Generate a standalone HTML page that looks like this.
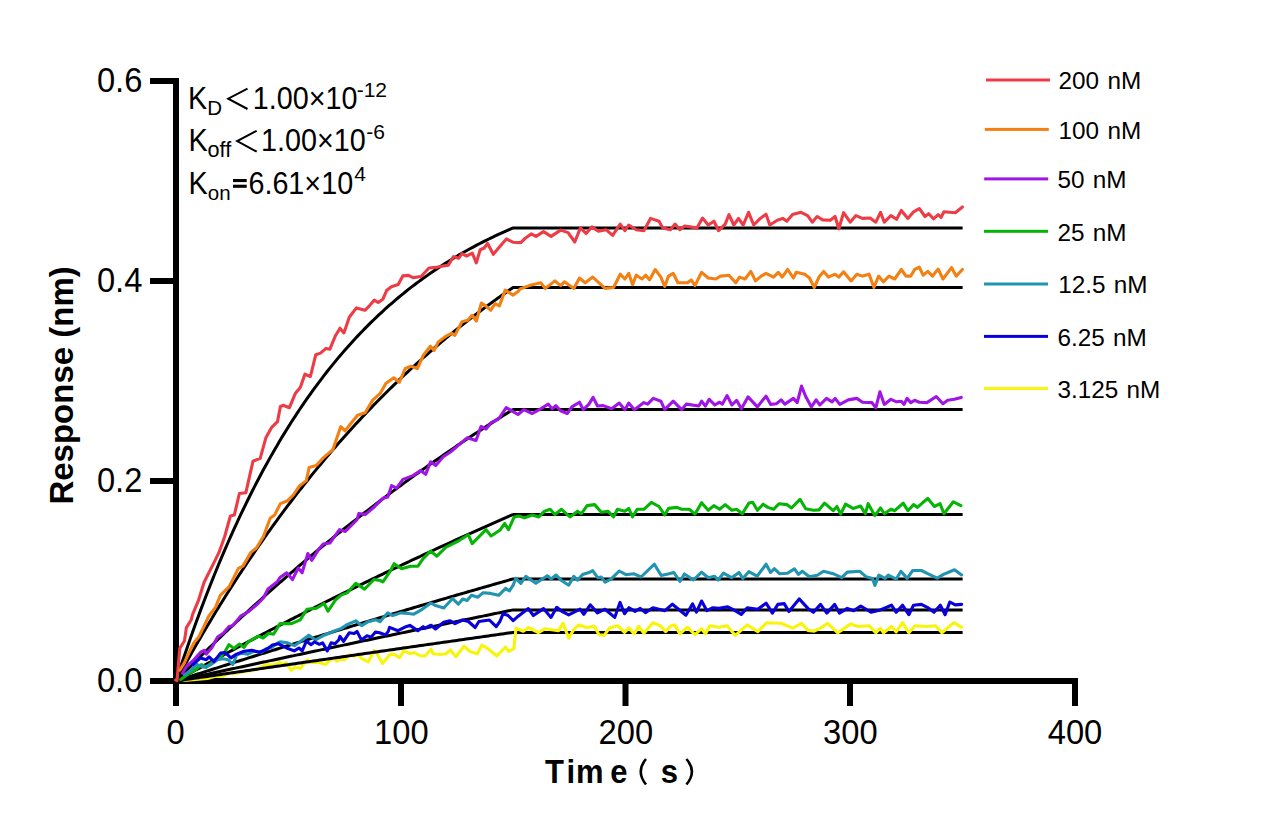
<!DOCTYPE html>
<html><head><meta charset="utf-8"><style>
html,body{margin:0;padding:0;background:#fff;}
body{width:1268px;height:834px;overflow:hidden;}
svg{display:block;}
</style></head><body>
<svg width="1268" height="834" viewBox="0 0 1268 834"><rect width="1268" height="834" fill="#fff"/><g fill="#000"><rect x="173" y="78" width="6" height="628"/><rect x="150" y="678" width="928" height="6"/><rect x="150" y="78" width="26" height="6"/><rect x="150" y="278" width="26" height="6"/><rect x="150" y="478" width="26" height="6"/><rect x="398" y="681" width="6" height="25"/><rect x="622.5" y="681" width="6" height="25"/><rect x="847" y="681" width="6" height="25"/><rect x="1072" y="681" width="6" height="25"/></g><path fill="none" stroke="#F8F40C" stroke-width="3.1" stroke-linejoin="round" stroke-linecap="round" d="M184.0,680.5 L204.4,678.6 L209.1,678.1 L215.7,676.2 L223.3,676.2 L229.0,672.9 L234.7,673.4 L242.2,672.0 L247.9,671.0 L254.5,670.1 L261.2,667.2 L266.8,664.5 L273.5,665.0 L278.2,663.1 L280.0,662.2 L283.8,665.1 L286.2,662.7 L291.4,670.3 L295.6,667.0 L300.4,668.4 L303.7,664.1 L307.4,659.9 L310.3,662.7 L314.1,662.2 L320.2,662.7 L325.4,664.6 L329.7,660.4 L334.4,658.0 L336.8,661.3 L340.0,659.1 L344.3,659.8 L349.2,654.8 L354.2,656.3 L358.5,654.1 L361.3,658.4 L368.4,661.9 L374.1,650.6 L376.9,653.4 L382.6,663.4 L389.7,654.8 L393.9,654.1 L399.6,657.7 L403.9,650.6 L409.6,653.4 L414.5,652.7 L419.5,655.5 L425.0,656.0 L431.0,649.2 L433.2,653.7 L440.0,654.5 L446.0,653.7 L450.5,650.0 L455.7,656.7 L464.0,646.2 L470.0,651.5 L477.4,653.7 L481.9,645.1 L488.7,649.2 L496.9,656.0 L505.5,647.0 L508.9,651.5 L513.8,648.5"/><g fill="none" stroke="#000" stroke-width="3" stroke-linejoin="round"><path d="M176.00,681.00 L178.25,674.10 L180.50,667.29 L182.74,660.57 L184.99,653.94 L187.24,647.39 L189.49,640.93 L191.73,634.56 L193.98,628.27 L196.23,622.06 L198.47,615.93 L200.72,609.89 L202.97,603.92 L205.22,598.03 L207.47,592.22 L209.71,586.49 L211.96,580.83 L214.21,575.24 L216.45,569.73 L218.70,564.29 L220.95,558.93 L223.20,553.63 L225.44,548.40 L227.69,543.24 L229.94,538.15 L232.19,533.13 L234.44,528.17 L236.68,523.27 L238.93,518.45 L241.18,513.68 L243.43,508.98 L245.67,504.34 L247.92,499.75 L250.17,495.23 L252.42,490.77 L254.66,486.37 L256.91,482.03 L259.16,477.74 L261.40,473.51 L263.65,469.33 L265.90,465.21 L268.15,461.15 L270.39,457.13 L272.64,453.17 L274.89,449.26 L277.14,445.41 L279.38,441.60 L281.63,437.84 L283.88,434.14 L286.13,430.48 L288.38,426.87 L290.62,423.31 L292.87,419.79 L295.12,416.32 L297.37,412.90 L299.61,409.52 L301.86,406.18 L304.11,402.89 L306.36,399.64 L308.60,396.44 L310.85,393.27 L313.10,390.15 L315.35,387.07 L317.59,384.03 L319.84,381.03 L322.09,378.07 L324.34,375.15 L326.58,372.26 L328.83,369.42 L331.08,366.61 L333.33,363.84 L335.57,361.10 L337.82,358.40 L340.07,355.74 L342.31,353.11 L344.56,350.52 L346.81,347.96 L349.06,345.43 L351.31,342.94 L353.55,340.48 L355.80,338.05 L358.05,335.65 L360.30,333.29 L362.54,330.95 L364.79,328.65 L367.04,326.38 L369.28,324.13 L371.53,321.92 L373.78,319.73 L376.03,317.58 L378.27,315.45 L380.52,313.35 L382.77,311.28 L385.02,309.23 L387.26,307.22 L389.51,305.22 L391.76,303.26 L394.01,301.32 L396.25,299.40 L398.50,297.52 L400.75,295.65 L403.00,293.81 L405.25,292.00 L407.49,290.20 L409.74,288.44 L411.99,286.69 L414.24,284.97 L416.48,283.27 L418.73,281.59 L420.98,279.94 L423.23,278.31 L425.47,276.69 L427.72,275.10 L429.97,273.53 L432.22,271.98 L434.46,270.45 L436.71,268.95 L438.96,267.46 L441.20,265.99 L443.45,264.54 L445.70,263.11 L447.95,261.69 L450.19,260.30 L452.44,258.93 L454.69,257.57 L456.94,256.23 L459.19,254.91 L461.43,253.60 L463.68,252.31 L465.93,251.04 L468.18,249.79 L470.42,248.55 L472.67,247.33 L474.92,246.13 L477.17,244.94 L479.41,243.76 L481.66,242.61 L483.91,241.46 L486.16,240.33 L488.40,239.22 L490.65,238.12 L492.90,237.04 L495.14,235.97 L497.39,234.91 L499.64,233.87 L501.89,232.84 L504.13,231.83 L506.38,230.83 L508.63,229.84 L510.88,228.86 L513.12,227.90 L962.62,227.90"/><path d="M176.00,681.00 L178.25,676.88 L180.50,672.78 L182.74,668.72 L184.99,664.68 L187.24,660.66 L189.49,656.67 L191.73,652.71 L193.98,648.78 L196.23,644.87 L198.47,640.98 L200.72,637.13 L202.97,633.29 L205.22,629.49 L207.47,625.70 L209.71,621.95 L211.96,618.21 L214.21,614.51 L216.45,610.82 L218.70,607.16 L220.95,603.53 L223.20,599.92 L225.44,596.33 L227.69,592.76 L229.94,589.22 L232.19,585.71 L234.44,582.21 L236.68,578.74 L238.93,575.29 L241.18,571.87 L243.43,568.47 L245.67,565.09 L247.92,561.73 L250.17,558.39 L252.42,555.08 L254.66,551.79 L256.91,548.52 L259.16,545.27 L261.40,542.04 L263.65,538.83 L265.90,535.65 L268.15,532.48 L270.39,529.34 L272.64,526.22 L274.89,523.12 L277.14,520.04 L279.38,516.97 L281.63,513.93 L283.88,510.91 L286.13,507.91 L288.38,504.93 L290.62,501.97 L292.87,499.03 L295.12,496.10 L297.37,493.20 L299.61,490.31 L301.86,487.45 L304.11,484.60 L306.36,481.78 L308.60,478.97 L310.85,476.18 L313.10,473.40 L315.35,470.65 L317.59,467.91 L319.84,465.20 L322.09,462.50 L324.34,459.81 L326.58,457.15 L328.83,454.50 L331.08,451.87 L333.33,449.26 L335.57,446.67 L337.82,444.09 L340.07,441.53 L342.31,438.98 L344.56,436.46 L346.81,433.94 L349.06,431.45 L351.31,428.97 L353.55,426.51 L355.80,424.07 L358.05,421.64 L360.30,419.23 L362.54,416.83 L364.79,414.45 L367.04,412.08 L369.28,409.73 L371.53,407.40 L373.78,405.08 L376.03,402.77 L378.27,400.48 L380.52,398.21 L382.77,395.95 L385.02,393.71 L387.26,391.48 L389.51,389.27 L391.76,387.07 L394.01,384.88 L396.25,382.71 L398.50,380.55 L400.75,378.41 L403.00,376.28 L405.25,374.17 L407.49,372.07 L409.74,369.98 L411.99,367.91 L414.24,365.85 L416.48,363.81 L418.73,361.77 L420.98,359.75 L423.23,357.75 L425.47,355.76 L427.72,353.78 L429.97,351.81 L432.22,349.86 L434.46,347.92 L436.71,345.99 L438.96,344.08 L441.20,342.18 L443.45,340.29 L445.70,338.41 L447.95,336.54 L450.19,334.69 L452.44,332.85 L454.69,331.02 L456.94,329.21 L459.19,327.40 L461.43,325.61 L463.68,323.83 L465.93,322.06 L468.18,320.31 L470.42,318.56 L472.67,316.83 L474.92,315.10 L477.17,313.39 L479.41,311.69 L481.66,310.01 L483.91,308.33 L486.16,306.66 L488.40,305.01 L490.65,303.36 L492.90,301.73 L495.14,300.10 L497.39,298.49 L499.64,296.89 L501.89,295.30 L504.13,293.72 L506.38,292.15 L508.63,290.59 L510.88,289.04 L513.12,287.50 L962.62,287.50"/><path d="M176.00,681.00 L178.25,678.71 L180.50,676.42 L182.74,674.14 L184.99,671.87 L187.24,669.61 L189.49,667.36 L191.73,665.11 L193.98,662.87 L196.23,660.64 L198.47,658.41 L200.72,656.19 L202.97,653.98 L205.22,651.78 L207.47,649.58 L209.71,647.39 L211.96,645.21 L214.21,643.04 L216.45,640.87 L218.70,638.71 L220.95,636.56 L223.20,634.41 L225.44,632.27 L227.69,630.14 L229.94,628.02 L232.19,625.90 L234.44,623.79 L236.68,621.68 L238.93,619.59 L241.18,617.50 L243.43,615.41 L245.67,613.34 L247.92,611.27 L250.17,609.20 L252.42,607.15 L254.66,605.10 L256.91,603.06 L259.16,601.02 L261.40,598.99 L263.65,596.97 L265.90,594.96 L268.15,592.95 L270.39,590.95 L272.64,588.95 L274.89,586.96 L277.14,584.98 L279.38,583.00 L281.63,581.03 L283.88,579.07 L286.13,577.11 L288.38,575.16 L290.62,573.22 L292.87,571.28 L295.12,569.35 L297.37,567.43 L299.61,565.51 L301.86,563.60 L304.11,561.69 L306.36,559.80 L308.60,557.90 L310.85,556.02 L313.10,554.14 L315.35,552.26 L317.59,550.39 L319.84,548.53 L322.09,546.68 L324.34,544.83 L326.58,542.98 L328.83,541.15 L331.08,539.32 L333.33,537.49 L335.57,535.67 L337.82,533.86 L340.07,532.05 L342.31,530.25 L344.56,528.45 L346.81,526.67 L349.06,524.88 L351.31,523.10 L353.55,521.33 L355.80,519.57 L358.05,517.81 L360.30,516.05 L362.54,514.30 L364.79,512.56 L367.04,510.83 L369.28,509.09 L371.53,507.37 L373.78,505.65 L376.03,503.93 L378.27,502.23 L380.52,500.52 L382.77,498.83 L385.02,497.14 L387.26,495.45 L389.51,493.77 L391.76,492.09 L394.01,490.42 L396.25,488.76 L398.50,487.10 L400.75,485.45 L403.00,483.80 L405.25,482.16 L407.49,480.52 L409.74,478.89 L411.99,477.27 L414.24,475.65 L416.48,474.03 L418.73,472.42 L420.98,470.82 L423.23,469.22 L425.47,467.62 L427.72,466.04 L429.97,464.45 L432.22,462.87 L434.46,461.30 L436.71,459.73 L438.96,458.17 L441.20,456.61 L443.45,455.06 L445.70,453.51 L447.95,451.97 L450.19,450.44 L452.44,448.90 L454.69,447.38 L456.94,445.85 L459.19,444.34 L461.43,442.83 L463.68,441.32 L465.93,439.82 L468.18,438.32 L470.42,436.83 L472.67,435.34 L474.92,433.86 L477.17,432.38 L479.41,430.91 L481.66,429.44 L483.91,427.98 L486.16,426.52 L488.40,425.07 L490.65,423.62 L492.90,422.18 L495.14,420.74 L497.39,419.31 L499.64,417.88 L501.89,416.45 L504.13,415.03 L506.38,413.62 L508.63,412.21 L510.88,410.80 L513.12,409.40 L962.62,409.40"/><path d="M176.00,681.00 L178.25,679.75 L180.50,678.50 L182.74,677.25 L184.99,676.00 L187.24,674.76 L189.49,673.52 L191.73,672.28 L193.98,671.04 L196.23,669.80 L198.47,668.57 L200.72,667.34 L202.97,666.11 L205.22,664.88 L207.47,663.66 L209.71,662.43 L211.96,661.21 L214.21,659.99 L216.45,658.77 L218.70,657.56 L220.95,656.34 L223.20,655.13 L225.44,653.92 L227.69,652.72 L229.94,651.51 L232.19,650.31 L234.44,649.11 L236.68,647.91 L238.93,646.71 L241.18,645.51 L243.43,644.32 L245.67,643.13 L247.92,641.94 L250.17,640.75 L252.42,639.56 L254.66,638.38 L256.91,637.20 L259.16,636.02 L261.40,634.84 L263.65,633.67 L265.90,632.49 L268.15,631.32 L270.39,630.15 L272.64,628.98 L274.89,627.81 L277.14,626.65 L279.38,625.49 L281.63,624.33 L283.88,623.17 L286.13,622.01 L288.38,620.86 L290.62,619.70 L292.87,618.55 L295.12,617.40 L297.37,616.26 L299.61,615.11 L301.86,613.97 L304.11,612.83 L306.36,611.69 L308.60,610.55 L310.85,609.41 L313.10,608.28 L315.35,607.15 L317.59,606.02 L319.84,604.89 L322.09,603.76 L324.34,602.64 L326.58,601.51 L328.83,600.39 L331.08,599.27 L333.33,598.16 L335.57,597.04 L337.82,595.93 L340.07,594.82 L342.31,593.71 L344.56,592.60 L346.81,591.49 L349.06,590.39 L351.31,589.28 L353.55,588.18 L355.80,587.08 L358.05,585.99 L360.30,584.89 L362.54,583.80 L364.79,582.71 L367.04,581.62 L369.28,580.53 L371.53,579.44 L373.78,578.36 L376.03,577.28 L378.27,576.19 L380.52,575.12 L382.77,574.04 L385.02,572.96 L387.26,571.89 L389.51,570.82 L391.76,569.75 L394.01,568.68 L396.25,567.61 L398.50,566.55 L400.75,565.48 L403.00,564.42 L405.25,563.36 L407.49,562.30 L409.74,561.25 L411.99,560.19 L414.24,559.14 L416.48,558.09 L418.73,557.04 L420.98,555.99 L423.23,554.95 L425.47,553.90 L427.72,552.86 L429.97,551.82 L432.22,550.78 L434.46,549.74 L436.71,548.71 L438.96,547.67 L441.20,546.64 L443.45,545.61 L445.70,544.58 L447.95,543.56 L450.19,542.53 L452.44,541.51 L454.69,540.49 L456.94,539.46 L459.19,538.45 L461.43,537.43 L463.68,536.41 L465.93,535.40 L468.18,534.39 L470.42,533.38 L472.67,532.37 L474.92,531.36 L477.17,530.36 L479.41,529.35 L481.66,528.35 L483.91,527.35 L486.16,526.35 L488.40,525.36 L490.65,524.36 L492.90,523.37 L495.14,522.38 L497.39,521.39 L499.64,520.40 L501.89,519.41 L504.13,518.43 L506.38,517.44 L508.63,516.46 L510.88,515.48 L513.12,514.50 L962.62,514.50"/><path d="M176.00,681.00 L178.25,680.28 L180.50,679.55 L182.74,678.83 L184.99,678.11 L187.24,677.39 L189.49,676.67 L191.73,675.95 L193.98,675.23 L196.23,674.51 L198.47,673.79 L200.72,673.08 L202.97,672.36 L205.22,671.64 L207.47,670.93 L209.71,670.21 L211.96,669.50 L214.21,668.78 L216.45,668.07 L218.70,667.36 L220.95,666.64 L223.20,665.93 L225.44,665.22 L227.69,664.51 L229.94,663.80 L232.19,663.09 L234.44,662.38 L236.68,661.68 L238.93,660.97 L241.18,660.26 L243.43,659.56 L245.67,658.85 L247.92,658.14 L250.17,657.44 L252.42,656.74 L254.66,656.03 L256.91,655.33 L259.16,654.63 L261.40,653.93 L263.65,653.22 L265.90,652.52 L268.15,651.82 L270.39,651.13 L272.64,650.43 L274.89,649.73 L277.14,649.03 L279.38,648.33 L281.63,647.64 L283.88,646.94 L286.13,646.25 L288.38,645.55 L290.62,644.86 L292.87,644.16 L295.12,643.47 L297.37,642.78 L299.61,642.09 L301.86,641.40 L304.11,640.70 L306.36,640.01 L308.60,639.32 L310.85,638.64 L313.10,637.95 L315.35,637.26 L317.59,636.57 L319.84,635.89 L322.09,635.20 L324.34,634.51 L326.58,633.83 L328.83,633.14 L331.08,632.46 L333.33,631.78 L335.57,631.09 L337.82,630.41 L340.07,629.73 L342.31,629.05 L344.56,628.37 L346.81,627.69 L349.06,627.01 L351.31,626.33 L353.55,625.65 L355.80,624.97 L358.05,624.30 L360.30,623.62 L362.54,622.94 L364.79,622.27 L367.04,621.59 L369.28,620.92 L371.53,620.25 L373.78,619.57 L376.03,618.90 L378.27,618.23 L380.52,617.56 L382.77,616.89 L385.02,616.22 L387.26,615.55 L389.51,614.88 L391.76,614.21 L394.01,613.54 L396.25,612.87 L398.50,612.20 L400.75,611.54 L403.00,610.87 L405.25,610.21 L407.49,609.54 L409.74,608.88 L411.99,608.21 L414.24,607.55 L416.48,606.89 L418.73,606.22 L420.98,605.56 L423.23,604.90 L425.47,604.24 L427.72,603.58 L429.97,602.92 L432.22,602.26 L434.46,601.60 L436.71,600.95 L438.96,600.29 L441.20,599.63 L443.45,598.98 L445.70,598.32 L447.95,597.67 L450.19,597.01 L452.44,596.36 L454.69,595.70 L456.94,595.05 L459.19,594.40 L461.43,593.75 L463.68,593.09 L465.93,592.44 L468.18,591.79 L470.42,591.14 L472.67,590.49 L474.92,589.85 L477.17,589.20 L479.41,588.55 L481.66,587.90 L483.91,587.26 L486.16,586.61 L488.40,585.96 L490.65,585.32 L492.90,584.68 L495.14,584.03 L497.39,583.39 L499.64,582.75 L501.89,582.10 L504.13,581.46 L506.38,580.82 L508.63,580.18 L510.88,579.54 L513.12,578.90 L962.62,578.90"/><path d="M176.00,681.00 L178.25,680.51 L180.50,680.02 L182.74,679.53 L184.99,679.05 L187.24,678.56 L189.49,678.07 L191.73,677.58 L193.98,677.10 L196.23,676.61 L198.47,676.12 L200.72,675.63 L202.97,675.15 L205.22,674.66 L207.47,674.18 L209.71,673.69 L211.96,673.20 L214.21,672.72 L216.45,672.23 L218.70,671.75 L220.95,671.26 L223.20,670.78 L225.44,670.29 L227.69,669.81 L229.94,669.33 L232.19,668.84 L234.44,668.36 L236.68,667.87 L238.93,667.39 L241.18,666.91 L243.43,666.43 L245.67,665.94 L247.92,665.46 L250.17,664.98 L252.42,664.50 L254.66,664.01 L256.91,663.53 L259.16,663.05 L261.40,662.57 L263.65,662.09 L265.90,661.61 L268.15,661.13 L270.39,660.65 L272.64,660.17 L274.89,659.69 L277.14,659.21 L279.38,658.73 L281.63,658.25 L283.88,657.77 L286.13,657.29 L288.38,656.81 L290.62,656.33 L292.87,655.85 L295.12,655.37 L297.37,654.90 L299.61,654.42 L301.86,653.94 L304.11,653.46 L306.36,652.98 L308.60,652.51 L310.85,652.03 L313.10,651.55 L315.35,651.08 L317.59,650.60 L319.84,650.12 L322.09,649.65 L324.34,649.17 L326.58,648.70 L328.83,648.22 L331.08,647.75 L333.33,647.27 L335.57,646.80 L337.82,646.32 L340.07,645.85 L342.31,645.37 L344.56,644.90 L346.81,644.43 L349.06,643.95 L351.31,643.48 L353.55,643.01 L355.80,642.53 L358.05,642.06 L360.30,641.59 L362.54,641.11 L364.79,640.64 L367.04,640.17 L369.28,639.70 L371.53,639.23 L373.78,638.75 L376.03,638.28 L378.27,637.81 L380.52,637.34 L382.77,636.87 L385.02,636.40 L387.26,635.93 L389.51,635.46 L391.76,634.99 L394.01,634.52 L396.25,634.05 L398.50,633.58 L400.75,633.11 L403.00,632.64 L405.25,632.17 L407.49,631.71 L409.74,631.24 L411.99,630.77 L414.24,630.30 L416.48,629.83 L418.73,629.37 L420.98,628.90 L423.23,628.43 L425.47,627.96 L427.72,627.50 L429.97,627.03 L432.22,626.56 L434.46,626.10 L436.71,625.63 L438.96,625.17 L441.20,624.70 L443.45,624.24 L445.70,623.77 L447.95,623.30 L450.19,622.84 L452.44,622.38 L454.69,621.91 L456.94,621.45 L459.19,620.98 L461.43,620.52 L463.68,620.05 L465.93,619.59 L468.18,619.13 L470.42,618.66 L472.67,618.20 L474.92,617.74 L477.17,617.28 L479.41,616.81 L481.66,616.35 L483.91,615.89 L486.16,615.43 L488.40,614.97 L490.65,614.50 L492.90,614.04 L495.14,613.58 L497.39,613.12 L499.64,612.66 L501.89,612.20 L504.13,611.74 L506.38,611.28 L508.63,610.82 L510.88,610.36 L513.12,609.90 L962.62,609.90"/><path d="M176.00,681.00 L178.25,680.67 L180.50,680.34 L182.74,680.01 L184.99,679.68 L187.24,679.36 L189.49,679.03 L191.73,678.70 L193.98,678.37 L196.23,678.04 L198.47,677.71 L200.72,677.38 L202.97,677.06 L205.22,676.73 L207.47,676.40 L209.71,676.07 L211.96,675.74 L214.21,675.42 L216.45,675.09 L218.70,674.76 L220.95,674.43 L223.20,674.11 L225.44,673.78 L227.69,673.45 L229.94,673.12 L232.19,672.80 L234.44,672.47 L236.68,672.14 L238.93,671.81 L241.18,671.49 L243.43,671.16 L245.67,670.83 L247.92,670.51 L250.17,670.18 L252.42,669.85 L254.66,669.52 L256.91,669.20 L259.16,668.87 L261.40,668.55 L263.65,668.22 L265.90,667.89 L268.15,667.57 L270.39,667.24 L272.64,666.91 L274.89,666.59 L277.14,666.26 L279.38,665.94 L281.63,665.61 L283.88,665.28 L286.13,664.96 L288.38,664.63 L290.62,664.31 L292.87,663.98 L295.12,663.66 L297.37,663.33 L299.61,663.00 L301.86,662.68 L304.11,662.35 L306.36,662.03 L308.60,661.70 L310.85,661.38 L313.10,661.05 L315.35,660.73 L317.59,660.40 L319.84,660.08 L322.09,659.75 L324.34,659.43 L326.58,659.11 L328.83,658.78 L331.08,658.46 L333.33,658.13 L335.57,657.81 L337.82,657.48 L340.07,657.16 L342.31,656.84 L344.56,656.51 L346.81,656.19 L349.06,655.86 L351.31,655.54 L353.55,655.22 L355.80,654.89 L358.05,654.57 L360.30,654.25 L362.54,653.92 L364.79,653.60 L367.04,653.28 L369.28,652.95 L371.53,652.63 L373.78,652.31 L376.03,651.98 L378.27,651.66 L380.52,651.34 L382.77,651.01 L385.02,650.69 L387.26,650.37 L389.51,650.05 L391.76,649.72 L394.01,649.40 L396.25,649.08 L398.50,648.76 L400.75,648.43 L403.00,648.11 L405.25,647.79 L407.49,647.47 L409.74,647.14 L411.99,646.82 L414.24,646.50 L416.48,646.18 L418.73,645.86 L420.98,645.53 L423.23,645.21 L425.47,644.89 L427.72,644.57 L429.97,644.25 L432.22,643.93 L434.46,643.61 L436.71,643.28 L438.96,642.96 L441.20,642.64 L443.45,642.32 L445.70,642.00 L447.95,641.68 L450.19,641.36 L452.44,641.04 L454.69,640.72 L456.94,640.40 L459.19,640.08 L461.43,639.75 L463.68,639.43 L465.93,639.11 L468.18,638.79 L470.42,638.47 L472.67,638.15 L474.92,637.83 L477.17,637.51 L479.41,637.19 L481.66,636.87 L483.91,636.55 L486.16,636.23 L488.40,635.91 L490.65,635.59 L492.90,635.27 L495.14,634.95 L497.39,634.63 L499.64,634.32 L501.89,634.00 L504.13,633.68 L506.38,633.36 L508.63,633.04 L510.88,632.72 L513.12,632.40 L962.62,632.40"/></g><g fill="none" stroke-width="3.1" stroke-linejoin="round" stroke-linecap="round"><path stroke="#EE3C46" d="M175.7,680.0 L177.0,680.6 L179.8,648.4 L181.4,645.8 L184.5,640.8 L186.4,627.6 L191.1,620.0 L192.8,613.9 L198.5,600.3 L204.2,582.0 L212.2,566.1 L219.0,552.4 L224.7,536.5 L230.4,516.0 L234.3,515.1 L239.4,493.5 L245.8,492.8 L253.0,461.2 L260.2,458.3 L266.0,437.4 L271.7,427.3 L277.5,421.6 L280.4,406.5 L283.1,405.3 L289.4,407.7 L295.6,392.9 L300.3,387.4 L304.9,374.2 L310.4,376.5 L315.8,354.7 L320.5,353.1 L326.0,348.4 L329.9,349.2 L335.3,336.0 L340.0,328.2 L343.9,332.9 L349.3,317.3 L356.4,307.9 L364.9,310.3 L369.6,305.6 L374.3,300.1 L378.2,302.5 L382.8,299.3 L386.8,290.2 L391.4,286.8 L398.2,284.5 L402.8,275.9 L408.5,275.4 L413.0,277.6 L421.0,276.5 L429.0,268.0 L435.8,267.4 L441.5,266.3 L448.3,265.1 L453.5,256.6 L458.6,258.3 L462.0,253.7 L466.6,256.0 L472.3,253.2 L476.3,262.8 L480.2,249.7 L484.2,248.0 L487.6,243.5 L493.3,254.3 L499.0,247.5 L506.4,238.9 L513.3,242.3 L520.8,242.6 L524.6,238.8 L531.2,233.9 L536.0,236.4 L543.5,231.6 L551.1,236.4 L560.6,230.1 L568.1,232.6 L574.8,242.0 L580.4,227.9 L586.1,233.5 L591.8,226.9 L598.4,231.3 L606.0,229.7 L612.6,235.4 L620.2,224.1 L624.9,230.7 L628.7,225.0 L636.3,229.7 L643.9,230.7 L650.5,218.4 L659.0,221.2 L662.8,227.9 L670.4,229.7 L675.1,224.1 L679.8,229.7 L684.6,226.0 L696.9,227.9 L702.5,218.0 L708.2,225.0 L713.9,221.2 L718.6,230.7 L725.2,224.1 L729.0,214.6 L733.8,225.0 L738.5,218.4 L743.2,225.0 L748.6,212.3 L753.7,225.0 L760.3,218.4 L766.0,214.2 L769.8,225.0 L777.3,220.3 L783.0,218.4 L786.8,221.2 L792.5,214.6 L801.0,212.3 L807.6,215.6 L812.3,222.2 L817.1,216.5 L822.7,219.9 L830.3,220.3 L835.1,216.5 L838.8,228.8 L843.6,212.7 L850.2,222.2 L855.9,215.6 L862.5,218.4 L870.1,218.0 L875.8,222.2 L880.5,212.3 L884.3,222.2 L890.9,215.6 L896.6,219.3 L901.3,210.4 L907.9,218.4 L913.6,211.8 L919.3,208.5 L925.0,216.5 L928.7,213.7 L933.5,218.8 L938.2,214.6 L941.1,217.4 L943.9,211.8 L955.3,212.7 L962.4,207.0"/><path stroke="#F28012" d="M179.8,670.2 L184.5,662.6 L189.2,652.2 L194.0,642.7 L198.7,637.0 L203.4,627.6 L208.7,616.2 L215.6,607.1 L220.1,595.7 L229.2,586.6 L238.4,568.4 L242.9,566.1 L250.9,552.4 L256.6,547.8 L263.4,536.5 L270.2,518.2 L274.6,515.1 L280.4,503.6 L287.6,500.7 L293.3,495.0 L299.1,486.3 L306.3,480.6 L309.1,467.6 L316.3,465.5 L323.5,457.6 L332.9,449.6 L340.8,426.6 L345.1,430.9 L350.0,424.5 L357.6,415.2 L365.2,412.7 L372.7,400.1 L380.0,393.7 L385.8,383.6 L393.7,377.8 L399.4,382.2 L405.2,368.5 L410.9,366.3 L417.4,368.5 L423.2,355.5 L430.4,346.2 L434.0,350.5 L438.3,341.9 L446.2,336.1 L451.9,333.2 L454.8,335.4 L462.0,321.7 L467.8,320.3 L472.1,315.3 L476.4,321.0 L481.4,303.0 L486.5,306.6 L490.8,310.2 L495.1,303.7 L499.4,305.9 L505.2,290.1 L513.1,295.1 L518.1,291.5 L520.0,289.0 L529.3,285.6 L540.7,282.8 L545.4,288.4 L554.9,280.9 L560.6,285.6 L564.4,281.8 L573.8,288.4 L579.5,278.0 L585.2,282.8 L592.7,277.1 L605.1,288.4 L613.6,287.5 L620.2,274.2 L624.9,279.0 L628.7,273.3 L632.5,284.6 L636.3,275.2 L642.0,279.0 L645.8,275.2 L649.5,279.9 L655.2,269.5 L660.9,277.1 L664.7,286.5 L668.5,276.1 L673.2,273.3 L677.9,282.8 L687.4,282.8 L691.2,279.9 L695.0,285.6 L701.6,272.3 L708.2,278.0 L715.8,279.0 L720.5,276.1 L729.0,275.2 L735.7,282.8 L739.5,277.1 L745.1,279.0 L750.8,271.4 L755.5,280.9 L761.2,276.1 L766.0,273.3 L773.5,277.1 L778.3,272.3 L782.1,277.1 L787.7,269.5 L793.4,278.0 L796.3,272.3 L804.8,274.2 L809.5,278.0 L814.2,287.5 L819.0,277.1 L823.7,271.4 L828.4,277.1 L835.1,274.2 L838.8,277.1 L843.6,271.8 L851.1,280.9 L856.8,274.2 L862.5,276.1 L869.1,274.2 L873.9,287.5 L878.6,276.1 L883.3,281.8 L889.0,276.1 L894.7,279.0 L901.3,269.5 L906.0,276.1 L910.8,276.1 L914.6,269.5 L919.3,267.2 L923.1,275.2 L927.8,271.4 L932.5,276.1 L938.2,269.1 L943.0,279.0 L951.5,267.6 L956.2,276.1 L962.4,269.5"/><path stroke="#A014E6" d="M182.5,673.2 L186.4,666.4 L193.0,660.7 L200.6,652.2 L204.4,650.3 L206.3,654.1 L212.0,647.4 L217.6,637.0 L223.3,633.2 L229.0,626.6 L232.8,625.7 L240.6,616.2 L248.6,611.6 L256.6,604.8 L263.4,598.0 L268.0,588.9 L277.1,582.0 L280.0,577.6 L286.7,572.8 L292.5,579.5 L298.2,568.0 L302.1,572.8 L307.8,553.6 L311.7,560.3 L318.4,549.8 L323.2,544.0 L329.9,543.0 L339.5,529.6 L345.3,531.5 L356.8,520.0 L358.9,513.4 L365.2,514.6 L372.7,508.3 L382.8,498.3 L387.8,497.0 L391.6,485.7 L396.6,488.2 L402.9,479.4 L413.0,475.6 L420.6,470.6 L425.6,474.3 L430.6,461.8 L435.7,465.5 L443.2,456.7 L450.8,451.7 L458.3,445.4 L467.1,437.8 L476.0,440.4 L481.0,426.5 L486.0,429.0 L491.1,422.7 L498.6,419.0 L506.2,407.6 L511.4,410.7 L518.0,414.5 L523.7,409.7 L532.2,413.5 L540.7,408.8 L548.3,404.1 L552.1,408.8 L555.8,405.6 L560.6,410.7 L567.2,413.5 L571.9,406.9 L579.5,402.2 L583.3,409.7 L589.0,404.1 L593.1,397.4 L597.5,406.0 L603.2,405.6 L611.7,408.8 L619.2,403.1 L624.9,409.7 L628.7,403.1 L634.4,409.7 L643.9,402.6 L647.6,404.1 L653.3,398.4 L660.9,401.2 L664.7,409.7 L673.2,401.2 L681.7,409.7 L686.4,404.1 L698.8,406.0 L701.6,401.2 L705.4,406.0 L709.2,399.3 L714.8,405.0 L719.6,402.2 L722.4,404.1 L727.1,395.6 L731.9,405.0 L736.6,400.3 L741.4,408.8 L748.0,396.9 L757.4,406.9 L766.0,396.1 L770.7,404.4 L776.4,403.7 L781.1,399.9 L784.9,404.1 L793.4,398.4 L797.2,402.6 L801.5,386.1 L805.7,396.5 L811.4,406.9 L816.1,399.9 L819.9,405.0 L826.5,398.4 L832.2,401.8 L835.1,398.4 L839.8,404.4 L848.3,399.9 L856.8,398.4 L862.5,402.2 L872.0,402.6 L875.8,407.9 L879.9,391.8 L884.3,404.4 L890.9,399.3 L896.6,401.8 L901.3,401.2 L904.1,404.4 L907.0,398.4 L910.8,402.6 L914.6,400.3 L919.3,402.2 L926.9,402.6 L936.3,396.5 L942.9,403.7 L947.7,400.3 L954.3,399.3 L961.3,397.4"/><path stroke="#06B406" d="M180.7,679.6 L188.3,673.9 L194.9,670.2 L201.6,664.5 L206.3,667.3 L213.9,660.7 L220.5,656.9 L225.2,651.2 L229.0,644.6 L233.7,648.4 L239.4,644.1 L244.1,647.4 L247.9,641.8 L253.6,638.9 L258.3,636.1 L263.1,638.0 L268.7,633.2 L273.5,634.2 L280.0,623.6 L291.5,623.6 L300.2,619.8 L306.9,609.3 L316.5,608.3 L324.1,603.5 L328.0,611.2 L335.7,599.7 L341.4,594.9 L347.2,592.9 L355.8,583.3 L364.5,589.1 L374.0,579.5 L380.0,580.5 L382.9,581.9 L390.1,571.3 L394.1,563.7 L401.7,568.8 L410.5,566.2 L418.0,566.2 L423.1,558.7 L430.6,551.1 L436.9,556.2 L445.7,547.4 L458.3,541.0 L468.4,534.8 L472.2,543.6 L486.0,529.7 L491.1,536.0 L498.6,531.0 L500.0,530.2 L504.7,523.5 L508.5,529.6 L514.2,516.9 L518.9,516.0 L524.6,517.9 L532.2,515.0 L538.8,516.9 L544.5,511.2 L550.2,509.3 L554.9,514.5 L561.5,509.3 L570.0,516.9 L577.6,511.2 L581.4,513.7 L587.1,505.6 L594.6,504.6 L601.3,512.2 L607.9,511.2 L613.6,516.9 L617.4,509.3 L624.9,511.2 L628.7,508.4 L632.5,516.9 L637.2,509.3 L643.9,509.3 L651.4,502.3 L659.0,506.5 L664.7,515.0 L668.5,508.4 L677.0,507.4 L681.7,509.3 L689.3,509.3 L695.0,514.1 L701.6,502.7 L708.2,510.3 L713.9,505.6 L719.6,509.3 L725.2,504.6 L731.9,510.3 L736.6,509.3 L742.3,513.7 L748.9,503.1 L752.7,502.3 L757.4,510.3 L763.1,504.2 L767.9,507.4 L773.5,509.3 L779.2,503.7 L786.8,504.6 L791.5,508.0 L800.0,499.3 L805.7,508.8 L813.3,510.3 L819.0,509.9 L824.6,503.1 L833.2,510.7 L836.9,506.5 L840.7,514.1 L845.5,504.2 L853.0,508.4 L860.6,506.1 L865.3,513.7 L868.2,503.7 L874.8,515.6 L880.5,508.0 L884.3,513.7 L890.9,509.3 L894.7,510.7 L903.2,503.1 L907.9,510.7 L913.6,504.6 L917.4,507.4 L923.1,502.3 L927.8,498.5 L934.4,506.5 L940.1,503.7 L943.9,513.7 L953.4,501.8 L960.9,505.6"/><path stroke="#2194B2" d="M184.5,674.9 L192.1,669.2 L196.8,664.5 L204.4,667.3 L211.0,664.5 L217.6,659.7 L223.3,658.8 L228.0,659.7 L232.8,664.5 L236.6,655.0 L242.2,653.1 L247.9,654.1 L254.5,651.2 L261.2,652.2 L266.8,648.4 L271.6,647.4 L278.2,642.7 L280.0,641.9 L287.7,642.8 L294.4,645.7 L301.1,640.9 L308.8,635.2 L315.5,640.0 L324.1,635.2 L333.7,631.3 L341.4,628.4 L347.2,624.6 L355.8,620.8 L361.6,625.6 L368.3,621.7 L376.0,619.8 L380.0,621.7 L387.5,612.9 L392.7,615.5 L400.7,612.9 L408.6,613.5 L413.8,614.2 L421.8,609.6 L431.0,603.0 L435.6,605.6 L443.8,608.0 L452.6,598.5 L458.3,604.2 L462.7,599.1 L467.1,600.4 L471.5,595.3 L477.9,597.2 L482.9,592.8 L490.5,593.4 L498.7,595.3 L505.6,588.4 L509.4,590.9 L513.2,585.2 L515.7,578.3 L520.8,583.3 L525.8,576.4 L535.9,583.3 L547.3,575.8 L551.0,578.9 L556.1,575.1 L561.1,580.2 L568.7,585.2 L573.8,576.4 L577.5,580.2 L582.6,574.5 L588.9,572.6 L592.7,570.7 L597.7,577.7 L601.2,577.0 L605.0,582.2 L611.0,579.2 L619.2,571.0 L626.0,574.7 L633.5,573.7 L641.0,577.0 L654.4,564.2 L661.2,575.5 L668.0,574.0 L673.9,572.5 L679.9,581.5 L684.4,574.0 L693.4,580.0 L701.6,572.2 L708.4,577.7 L714.4,576.2 L718.1,580.0 L723.4,573.2 L731.6,577.7 L739.1,572.5 L742.8,578.5 L748.8,571.7 L757.1,576.2 L766.1,564.2 L770.6,572.5 L774.3,568.7 L779.5,573.7 L787.4,573.3 L794.4,568.9 L798.4,574.4 L802.3,571.3 L809.4,576.8 L817.3,575.2 L823.6,571.3 L833.1,573.7 L841.8,577.6 L847.3,572.1 L859.9,571.3 L866.2,576.8 L872.5,578.4 L874.9,585.5 L878.8,575.2 L885.1,578.4 L888.3,575.2 L896.2,579.2 L900.9,571.3 L907.2,578.4 L912.7,570.5 L921.4,570.5 L927.7,573.7 L937.2,578.1 L943.5,574.4 L954.5,569.7 L961.6,574.9"/><path stroke="#0A00DC" d="M193.0,664.5 L200.6,657.9 L206.3,659.7 L209.1,656.9 L213.9,661.6 L220.5,653.1 L225.2,652.6 L230.9,657.9 L236.6,654.1 L244.1,651.2 L251.7,650.3 L259.3,652.2 L266.8,649.3 L272.5,645.1 L278.2,643.7 L280.0,644.7 L288.0,648.5 L294.2,650.9 L298.9,648.0 L302.2,650.9 L306.5,641.0 L310.8,644.7 L314.5,641.9 L319.3,644.3 L322.6,642.8 L327.3,650.9 L331.1,642.8 L334.9,643.8 L338.7,640.0 L340.0,636.4 L343.5,641.4 L349.2,632.8 L354.2,633.5 L357.0,631.4 L361.3,639.9 L367.0,635.7 L371.2,637.1 L375.5,632.1 L379.7,632.8 L385.4,635.0 L388.3,631.4 L389.5,627.4 L398.0,630.7 L405.9,626.7 L409.9,625.4 L417.8,630.7 L423.1,626.7 L425.0,628.2 L431.0,625.2 L435.5,629.0 L443.7,622.2 L449.7,620.7 L455.0,623.7 L462.5,620.0 L468.4,621.5 L475.2,627.5 L478.9,621.5 L489.4,620.0 L496.2,626.7 L499.9,621.5 L503.1,613.6 L508.1,615.5 L513.2,620.6 L518.2,616.2 L528.3,608.6 L533.4,615.5 L543.5,608.6 L551.0,617.4 L556.7,607.3 L562.4,611.7 L568.7,614.9 L580.1,609.2 L583.8,614.3 L590.2,604.8 L597.5,612.9 L605.0,609.2 L614.7,617.4 L620.0,602.4 L624.5,613.7 L629.0,607.7 L635.0,611.4 L640.2,608.4 L645.4,612.6 L652.9,607.7 L658.9,609.2 L664.9,610.7 L672.4,604.2 L685.9,615.2 L692.6,603.9 L696.4,612.2 L701.6,601.0 L706.9,610.7 L712.9,607.7 L718.9,608.4 L727.8,606.9 L733.8,609.9 L741.3,614.4 L747.3,607.7 L757.8,609.2 L766.1,603.2 L772.4,613.1 L777.9,604.4 L784.2,603.6 L788.9,611.5 L799.2,598.9 L807.9,608.4 L813.4,612.3 L820.5,604.4 L826.8,613.1 L834.7,604.4 L839.4,613.1 L847.3,608.4 L853.6,610.7 L860.7,606.0 L871.0,612.3 L880.4,609.9 L891.5,605.2 L896.2,612.3 L902.5,605.2 L908.8,614.7 L913.5,605.2 L921.4,604.4 L927.7,607.6 L934.0,612.3 L940.3,605.2 L945.1,614.7 L949.8,602.0 L955.3,604.9 L961.6,604.4"/><path stroke="#F8F40C" d="M513.8,648.5 L516.0,628.2 L523.3,631.3 L528.3,627.5 L538.4,632.6 L544.7,628.8 L558.6,630.7 L563.0,623.1 L568.7,638.2 L573.8,629.4 L578.8,625.0 L586.4,627.5 L594.5,626.4 L599.0,634.7 L604.2,635.4 L609.5,627.9 L617.7,625.7 L624.5,632.4 L629.0,627.9 L634.2,633.9 L638.7,626.4 L643.9,633.2 L652.9,622.7 L660.4,625.7 L665.7,631.7 L670.9,625.7 L674.7,624.9 L679.9,633.9 L687.4,627.2 L694.9,634.7 L701.6,628.7 L705.4,633.9 L709.9,625.7 L718.9,627.2 L727.1,625.7 L735.3,635.4 L747.3,624.9 L757.8,631.7 L766.8,622.7 L781.0,623.3 L792.9,628.1 L801.5,623.3 L807.9,630.4 L814.2,631.2 L820.5,628.1 L827.6,623.3 L837.8,632.8 L850.4,624.1 L858.3,626.5 L869.4,625.7 L875.7,632.8 L880.4,628.1 L883.6,632.8 L891.5,626.5 L896.2,632.0 L902.5,622.6 L908.8,632.8 L915.1,625.7 L926.2,626.5 L935.6,625.7 L941.9,632.8 L953.8,622.6 L961.6,627.3"/></g><g font-family='"Liberation Sans", sans-serif' font-size="35" fill="#000"><text transform="translate(142.4,91.7) scale(0.935,1)" text-anchor="end">0.6</text><text transform="translate(142.4,291.7) scale(0.935,1)" text-anchor="end">0.4</text><text transform="translate(142.4,491.7) scale(0.935,1)" text-anchor="end">0.2</text><text transform="translate(142.4,691.7) scale(0.935,1)" text-anchor="end">0.0</text><text transform="translate(175.5,743.8) scale(0.935,1)" text-anchor="middle">0</text><text transform="translate(401.3,743.8) scale(0.935,1)" text-anchor="middle">100</text><text transform="translate(625.8,743.8) scale(0.935,1)" text-anchor="middle">200</text><text transform="translate(850.3,743.8) scale(0.935,1)" text-anchor="middle">300</text><text transform="translate(1075,743.8) scale(0.935,1)" text-anchor="middle">400</text></g><text transform="translate(72.5,504.6) rotate(-90)" font-family='"Liberation Sans", sans-serif' font-size="33" font-weight="bold">Response (nm)</text><text transform="translate(545.0,782.8) scale(0.94,1)" font-family='"Liberation Sans", sans-serif' font-size="33" font-weight="bold">T</text><text transform="translate(566.4,782.8) scale(0.94,1)" font-family='"Liberation Sans", sans-serif' font-size="33" font-weight="bold">i</text><text transform="translate(575.9,782.8) scale(0.94,1)" font-family='"Liberation Sans", sans-serif' font-size="33" font-weight="bold">m</text><text transform="translate(610.3,782.8) scale(0.94,1)" font-family='"Liberation Sans", sans-serif' font-size="33" font-weight="bold">e</text><text transform="translate(660.8,782.8) scale(0.94,1)" font-family='"Liberation Sans", sans-serif' font-size="33" font-weight="bold">s</text><g fill="none" stroke="#000" stroke-width="2.6" stroke-linecap="butt"><path d="M646,759 Q635.5,771.5 646,784.5"/><path d="M686.4,759 Q697.4,771.5 686.4,784.5"/></g><g font-family='"Liberation Sans", sans-serif' fill="#000"><text transform="translate(188.1,108.8) scale(0.94,1)" font-size="30.6">K</text><text x="207.3" y="114.9" font-size="20.5">D</text><text transform="translate(252.8,108.8) scale(0.94,1)" font-size="30.6">1.00×10</text><text x="356.7" y="96.6" font-size="21">-12</text><text transform="translate(188.4,151.2) scale(0.94,1)" font-size="30.6">K</text><text x="207.6" y="156.9" font-size="21.6">off</text><text transform="translate(261.0,151.2) scale(0.94,1)" font-size="30.6">1.00×10</text><text x="366.2" y="138.7" font-size="21">-6</text><text transform="translate(188.4,193.9) scale(0.94,1)" font-size="30.6">K</text><text x="207.8" y="199.9" font-size="20.5">on</text><text transform="translate(248.4,193.9) scale(0.94,1)" font-size="30.6">6.61×10</text><text x="354.2" y="181.4" font-size="21">4</text></g><g fill="none" stroke="#000" stroke-width="2" stroke-linejoin="miter"><path d="M247.5,88.6 L228.2,98.7 L247.5,109"/><path d="M256.7,130.8 L237.2,141.1 L256.7,151.7"/></g><rect x="233" y="179" width="13.7" height="3.1" fill="#000"/><rect x="233" y="184.7" width="13.7" height="3.1" fill="#000"/><g font-family='"Liberation Sans", sans-serif' font-size="24.3" fill="#000" word-spacing="1.6"><rect x="986" y="78.5" width="64" height="3" fill="#EE3C46"/><text x="1058.6" y="89.2">200 nM</text><rect x="984.8" y="127.9" width="64" height="3" fill="#F28012"/><text x="1058.6" y="138.9">100 nM</text><rect x="984.2" y="177.4" width="64" height="3" fill="#A014E6"/><text x="1057.4" y="187.9">50 nM</text><rect x="984" y="229.8" width="64" height="3" fill="#06B406"/><text x="1057.4" y="240.6">25 nM</text><rect x="984" y="282.5" width="64" height="3" fill="#2194B2"/><text x="1058.2" y="292.7">12.5 nM</text><rect x="984" y="334.9" width="64" height="3" fill="#0A00DC"/><text x="1057.4" y="345.6">6.25 nM</text><rect x="984" y="387.0" width="64" height="3" fill="#F8F40C"/><text x="1057.4" y="397.8">3.125 nM</text></g></svg>
</body></html>
